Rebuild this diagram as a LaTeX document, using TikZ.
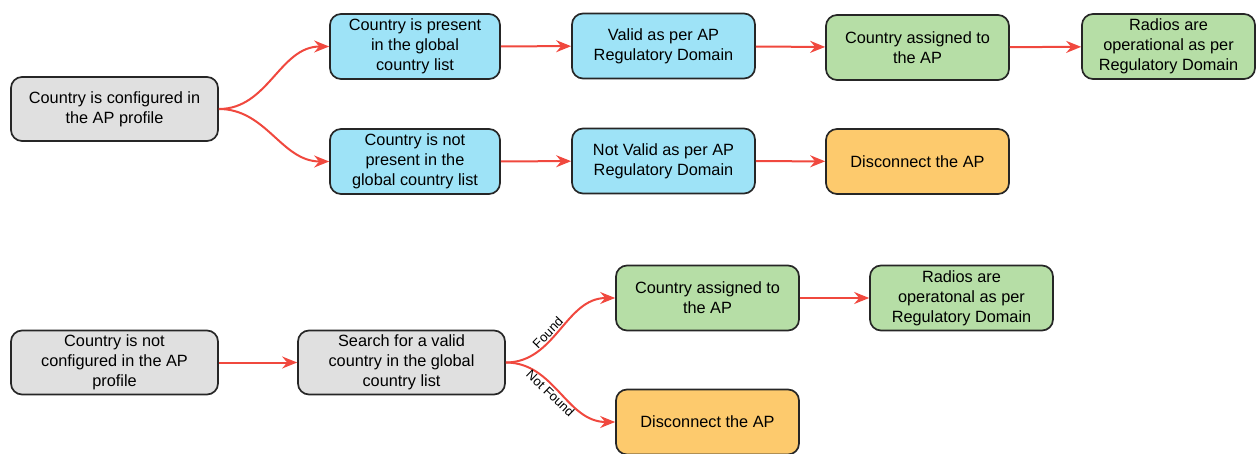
\documentclass[tikz,border=0pt]{standalone}
\usepackage{fontspec}
\setmainfont{Liberation Sans}
\usetikzlibrary{arrows.meta}
\definecolor{boxgray}{HTML}{E0E0E0}
\definecolor{boxblue}{HTML}{9EE3F7}
\definecolor{boxgreen}{HTML}{B6DEA6}
\definecolor{boxorange}{HTML}{FDCA6D}
\definecolor{flowred}{HTML}{F0483E}
\tikzset{
	stepbox/.style={draw=black!85, line width=1.7pt, rounded corners=11pt, align=center,
		font=\fontsize{16.3}{20}\selectfont, inner sep=1pt},
	graybox/.style={stepbox, fill=boxgray, minimum width=207pt, minimum height=64pt},
	bluebox/.style={stepbox, fill=boxblue, minimum width=170pt, minimum height=65pt},
	greenbox/.style={stepbox, fill=boxgreen, minimum width=183pt, minimum height=65pt},
	orangebox/.style={stepbox, fill=boxorange, minimum width=183pt, minimum height=65pt},
	flow/.style={draw=flowred, line width=2pt, -{Stealth[length=15pt,width=12pt,inset=5pt]}},
	branch/.style={font=\fontsize{13}{15}\selectfont, sloped, inner sep=2pt}
}

\begin{document}
\begin{tikzpicture}[x=1pt,y=-1pt]
	\useasboundingbox (0,0) rectangle (1258,454);

	% configured in the profile
	\node[graybox] (conf) at (114.5,109) {Country is configured in\\the AP profile};
	\node[bluebox] (present) at (415,46.5) {Country is present\\in the global\\country list};
	\node[bluebox] (absent) at (415,161.5) {Country is not\\present in the\\global country list};
	\node[bluebox, minimum width=183pt] (valid) at (663.5,46) {Valid as per AP\\Regulatory Domain};
	\node[bluebox, minimum width=183pt] (invalid) at (663.5,161) {Not Valid as per AP\\Regulatory Domain};
	\node[greenbox] (assigned) at (917.5,47.5) {Country assigned to\\the AP};
	\node[orangebox] (disc) at (917.5,161.5) {Disconnect the AP};
	\node[greenbox, minimum width=173pt] (radios) at (1168.5,46.5) {Radios are\\operational as per\\Regulatory Domain};

	\draw[flow] (conf.east) to[out=0,in=180] (present.west);
	\draw[flow] (conf.east) to[out=0,in=180] (absent.west);
	\draw[flow] (present) -- (valid);
	\draw[flow] (valid) -- (assigned);
	\draw[flow] (assigned) -- (radios);
	\draw[flow] (absent) -- (invalid);
	\draw[flow] (invalid) -- (disc);

	% not configured in the profile
	\node[graybox] (noconf) at (114.5,362.5) {Country is not\\configured in the AP\\profile};
	\node[graybox] (search) at (401.5,362.5) {Search for a valid\\country in the global\\country list};
	\node[greenbox] (found) at (707.5,298) {Country assigned to\\the AP};
	\node[greenbox] (foundradios) at (961.5,298) {Radios are\\operatonal as per\\Regulatory Domain};
	\node[orangebox] (notfound) at (707.5,422) {Disconnect the AP};

	\draw[flow] (noconf) -- (search);
	\draw[flow] (search.east) to[out=0,in=180] node[branch, above, pos=0.42] {Found} (found.west);
	\draw[flow] (search.east) to[out=0,in=180] node[branch, below, pos=0.45] {Not Found} (notfound.west);
	\draw[flow] (found) -- (foundradios);
\end{tikzpicture}
\end{document}
